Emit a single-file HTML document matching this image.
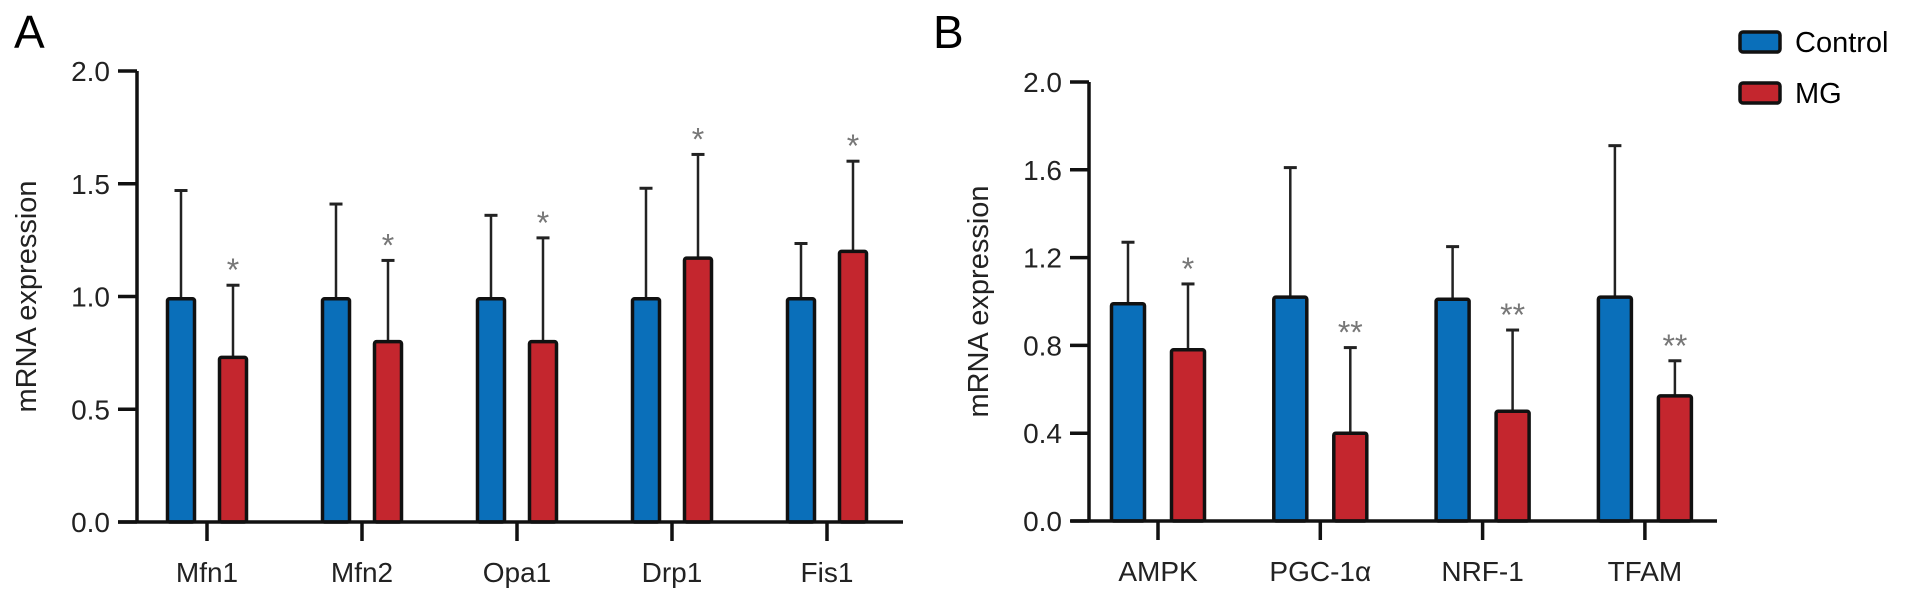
<!DOCTYPE html>
<html><head><meta charset="utf-8"><style>
html,body{margin:0;padding:0;background:#fff;}
svg{display:block;font-family:"Liberation Sans",sans-serif;}
</style></head><body>
<svg id="chart" width="1913" height="602" viewBox="0 0 1913 602" xmlns="http://www.w3.org/2000/svg">
<text x="14" y="48" font-size="46">A</text>
<text x="933" y="48" font-size="46">B</text>
<g>
<rect x="1740" y="32" width="40" height="20" rx="3" fill="#0a6fba" stroke="#111" stroke-width="3.5"/>
<text x="1795" y="52" font-size="29">Control</text>
<rect x="1740" y="83" width="40" height="20" rx="3" fill="#c4262e" stroke="#111" stroke-width="3.5"/>
<text x="1795" y="103" font-size="29">MG</text>
</g>
<g id="pa"></g>
<g id="pb"></g>
</svg>
<script>
const catsA = ["Mfn1","Mfn2","Opa1","Drp1","Fis1"];
const ctrlA = [0.99,0.99,0.99,0.99,0.99];
const ctrlErrA = [1.47,1.41,1.36,1.48,1.235];
const mgA = [0.73,0.80,0.80,1.17,1.20];
const mgErrA = [1.05,1.16,1.26,1.63,1.60];
const starsA = ["*","*","*","*","*"];
const ticksA = [0,0.5,1.0,1.5,2.0];
const tickLabelsA = ["0.0","0.5","1.0","1.5","2.0"];

const catsB = ["AMPK","PGC-1\u03B1","NRF-1","TFAM"];
const ctrlB = [0.99,1.02,1.01,1.02];
const ctrlErrB = [1.27,1.61,1.25,1.71];
const mgB = [0.78,0.40,0.50,0.57];
const mgErrB = [1.08,0.79,0.87,0.73];
const starsB = ["*","**","**","**"];
const ticksB = [0,0.4,0.8,1.2,1.6,2.0];
const tickLabelsB = ["0.0","0.4","0.8","1.2","1.6","2.0"];

const NS="http://www.w3.org/2000/svg";
function mk(parent,tag,attrs,text){const e=document.createElementNS(NS,tag);for(const k in attrs)e.setAttribute(k,attrs[k]);if(text!==undefined)e.textContent=text;parent.appendChild(e);return e;}

function panel(g,cfg,cats,ctrl,ctrlErr,mg,mgErr,stars,ticks,tickLabels,pfx){
  const y=v=>cfg.y0-(v/cfg.ymax)*(cfg.y0-cfg.yTop);
  const x=i=>cfg.x0+i*cfg.step;
  let e=mk(g,"line",{x1:cfg.ax,y1:y(cfg.ymax),x2:cfg.ax,y2:cfg.y0+1.5,stroke:"#111","stroke-width":3.5});
  
  
  ticks.forEach((t,i)=>{
    let l=mk(g,"line",{x1:cfg.ax-19,y1:y(t),x2:cfg.ax,y2:y(t),stroke:"#111","stroke-width":3.5});
    
    
    let tx=mk(g,"text",{x:cfg.ax-27,y:y(t)+10,"font-size":28,"text-anchor":"end",fill:"#222"},tickLabels[i]);
    
    
  });
  let yl=mk(g,"text",{x:0,y:0,"font-size":29,"text-anchor":"middle",fill:"#222",transform:`translate(${cfg.ylx},${(y(cfg.ymax)+cfg.y0)/2}) rotate(-90)`},"mRNA expression");
  
  
  cats.forEach((c,i)=>{
    const cx=x(i);
    [[ctrl[i],ctrlErr[i],-cfg.off,"#0a6fba","control"],[mg[i],mgErr[i],cfg.off,"#c4262e","mg"]].forEach(([v,err,o,col,nm])=>{
      const bx=cx+o;
      let el=mk(g,"line",{x1:bx,y1:y(err),x2:bx,y2:y(v),stroke:"#222","stroke-width":2.5});
      
      
      let cap=mk(g,"line",{x1:bx-6.5,y1:y(err),x2:bx+6.5,y2:y(err),stroke:"#222","stroke-width":3});
      
      
      let r=mk(g,"rect",{x:bx-cfg.bw/2,y:y(v),width:cfg.bw,height:cfg.y0-y(v),fill:col,stroke:"#111","stroke-width":3.5,rx:2});
      
      
      if(nm==="mg"){
        let s=mk(g,"text",{x:bx,y:y(err)-4,"font-size":32,"text-anchor":"middle",fill:"#777"},stars[i]);
        
        
      }
    });
    let t=mk(g,"line",{x1:cx,y1:cfg.y0,x2:cx,y2:cfg.y0+19,stroke:"#111","stroke-width":3.5});
    
    
    let lab=mk(g,"text",{x:cx,y:cfg.y0+60,"font-size":28,"text-anchor":"middle",fill:"#222"},c);
    
    
  });
  let xa=mk(g,"line",{x1:cfg.xs,y1:cfg.y0,x2:cfg.xe,y2:cfg.y0,stroke:"#111","stroke-width":3.5});
  
  
}
panel(document.getElementById("pa"),{ax:137,y0:522,yTop:71,ymax:2.0,x0:207,step:155,off:26,bw:27,xs:118,xe:903,ylx:36},catsA,ctrlA,ctrlErrA,mgA,mgErrA,starsA,ticksA,tickLabelsA,"a");
panel(document.getElementById("pb"),{ax:1089,y0:521,yTop:82,ymax:2.0,x0:1158,step:162.3,off:30,bw:33,xs:1071,xe:1717,ylx:988},catsB,ctrlB,ctrlErrB,mgB,mgErrB,starsB,ticksB,tickLabelsB,"b");
</script>
</body></html>
